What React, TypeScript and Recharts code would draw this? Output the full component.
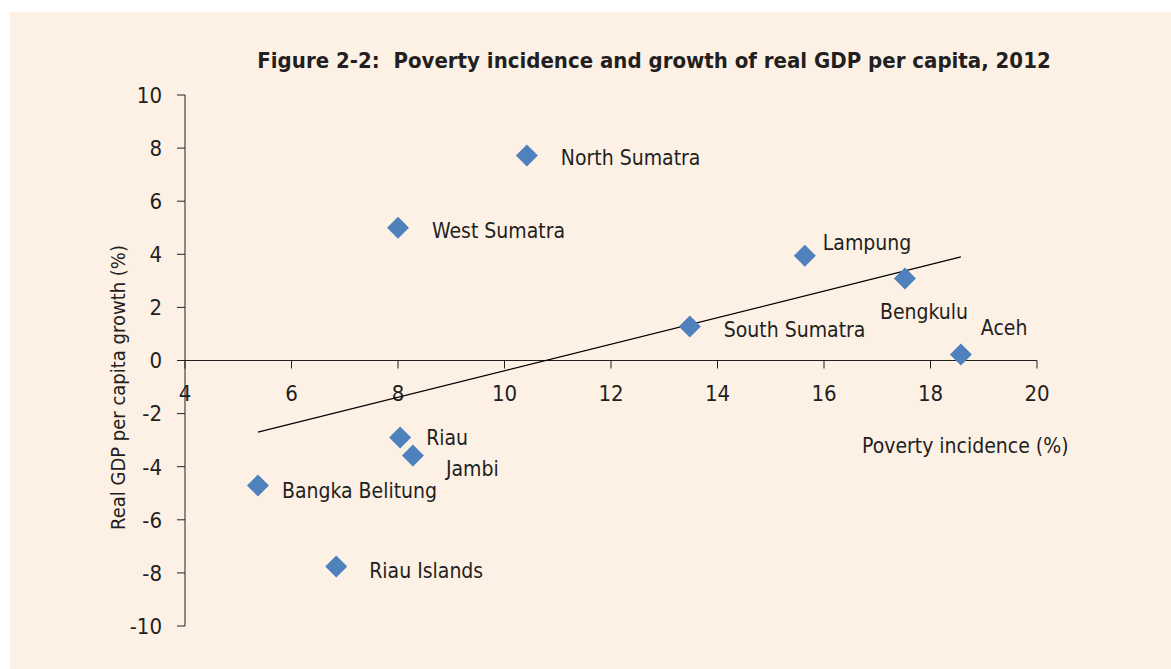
import React from "react";
import {
  ScatterChart,
  Scatter,
  XAxis,
  YAxis,
  ReferenceLine,
  ReferenceDot,
} from "recharts";

const regions = [
  "North Sumatra",
  "West Sumatra",
  "Lampung",
  "Bengkulu",
  "South Sumatra",
  "Aceh",
  "Riau",
  "Jambi",
  "Bangka Belitung",
  "Riau Islands",
];
const povertyIncidence = [10.42, 8.0, 15.64, 17.52, 13.48, 18.57, 8.04, 8.28, 5.37, 6.84];
const gdpGrowth = [7.72, 5.0, 3.95, 3.09, 1.28, 0.23, -2.9, -3.58, -4.71, -7.76];

const trendX = [5.37, 18.57];
const trendY = [-2.7, 3.9];

const xTicks = [4, 6, 8, 10, 12, 14, 16, 18, 20];
const yTicks = [-10, -8, -6, -4, -2, 0, 2, 4, 6, 8, 10];

const FONT = "'DejaVu Sans Condensed', 'Liberation Sans Narrow', 'Arial Narrow', sans-serif";
const INK = "#231f20";
const BLUE = "#4f81bd";

// where each label sits relative to its marker
const labelOffset: Record<string, [number, number]> = {
  "North Sumatra": [34, 2],
  "West Sumatra": [34, 3],
  Lampung: [18, -13],
  Bengkulu: [-25, 34],
  "South Sumatra": [34, 3],
  Aceh: [20, -26],
  Riau: [26, 1],
  Jambi: [33, 13],
  "Bangka Belitung": [24, 5],
  "Riau Islands": [33, 4],
};

const points = regions.map((name, i) => ({
  name,
  x: povertyIncidence[i],
  y: gdpGrowth[i],
}));
const trend = trendX.map((x, i) => ({ x, y: trendY[i] }));

const Diamond = (props: any) => {
  const { cx, cy, payload } = props;
  const s = 11;
  const [dx, dy] = labelOffset[payload.name] || [30, 0];
  return (
    <g>
      <path
        d={`M${cx},${cy - s} L${cx + s},${cy} L${cx},${cy + s} L${cx - s},${cy} Z`}
        fill={BLUE}
      />
      <text
        x={cx + dx}
        y={cy + dy}
        dominantBaseline="central"
        fontSize={21}
        fontFamily={FONT}
        fill={INK}
      >
        {payload.name}
      </text>
    </g>
  );
};

const XTick = (props: any) => {
  const { cx, cy, label } = props;
  return (
    <g>
      <line x1={cx} y1={cy} x2={cx} y2={cy + 8} stroke={INK} strokeWidth={1} />
      <text
        x={cx}
        y={cy + 33}
        textAnchor="middle"
        dominantBaseline="central"
        fontSize={22}
        fontFamily={FONT}
        fill={INK}
      >
        {label}
      </text>
    </g>
  );
};

const YTitle = (props: any) => {
  const { viewBox } = props;
  const x = viewBox.x - 7;
  const y = viewBox.y + viewBox.height / 2 + 27;
  return (
    <text
      x={x}
      y={y}
      transform={`rotate(-90 ${x} ${y})`}
      textAnchor="middle"
      dominantBaseline="central"
      fontSize={20}
      fontFamily={FONT}
      fill={INK}
    >
      Real GDP per capita growth (%)
    </text>
  );
};

export default function App() {
  return (
    <div
      style={{
        position: "absolute",
        left: 0,
        top: 0,
        width: 1171,
        height: 669,
        background: "#ffffff",
        overflow: "hidden",
      }}
    >
      <div
        style={{
          position: "absolute",
          left: 10,
          top: 12,
          width: 1161,
          height: 657,
          background: "#fdf1e6",
        }}
      />
      <div
        style={{
          position: "absolute",
          left: 0,
          top: 48,
          width: 1308,
          textAlign: "center",
          fontFamily: FONT,
          fontWeight: "bold",
          fontSize: 22,
          color: INK,
          whiteSpace: "pre",
        }}
      >
        {"Figure 2-2:  Poverty incidence and growth of real GDP per capita, 2012"}
      </div>
      <div
        style={{
          position: "absolute",
          left: 862,
          top: 434,
          fontFamily: FONT,
          fontSize: 21,
          color: INK,
          whiteSpace: "pre",
        }}
      >
        Poverty incidence (%)
      </div>
      <div style={{ position: "absolute", left: 0, top: 0 }}>
        <ScatterChart
          width={1171}
          height={669}
          margin={{ top: 95, right: 134, bottom: 43, left: 125 }}
        >
          <XAxis
            type="number"
            dataKey="x"
            domain={[4, 20]}
            ticks={xTicks}
            hide
            height={0}
          />
          <YAxis
            type="number"
            dataKey="y"
            domain={[-10, 10]}
            ticks={yTicks}
            width={60}
            tickSize={8}
            tickMargin={15}
            stroke={INK}
            tick={{ fontSize: 22, fontFamily: FONT, fill: INK }}
            label={{ content: YTitle }}
          />
          <ReferenceLine y={0} stroke={INK} strokeWidth={1} />
          {xTicks.map((t) => (
            <ReferenceDot
              key={t}
              x={t}
              y={0}
              r={0}
              shape={(p: any) => <XTick {...p} label={t} />}
            />
          ))}
          <Scatter
            data={trend}
            line={{ stroke: "#000000", strokeWidth: 1.2 }}
            shape={() => <g />}
            isAnimationActive={false}
          />
          <Scatter data={points} shape={Diamond} isAnimationActive={false} />
        </ScatterChart>
      </div>
    </div>
  );
}
